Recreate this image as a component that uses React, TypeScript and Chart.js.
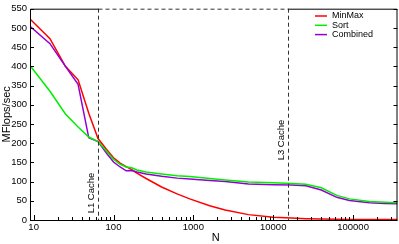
import React, { useEffect, useRef } from "react";
import { Chart, registerables } from "chart.js";

Chart.register(...registerables);

const N_VALUES = [9, 16, 25, 36, 49, 64, 81, 100, 121, 144, 169, 196, 256, 400, 625, 900, 1600, 2500, 4900, 10000, 16900, 25600, 40000, 62500, 90000, 160000, 250000, 360000];
const MINMAX = [523, 472, 400, 365, 278, 212, 185, 162, 148, 139, 131, 122, 108, 86, 68, 55, 37, 26, 14, 7, 5, 3.5, 2.5, 2, 1.5, 1, 1, 1];
const SORT = [402, 335, 276, 242, 216, 204, 180, 158, 145, 138, 136, 130, 125, 120, 115, 113, 108, 104, 99, 97, 95, 93, 84, 64, 55, 48, 46, 45];
const COMBINED = [504, 459, 400, 353, 214, 204, 175, 151, 138, 128, 129, 125, 120, 114, 109, 107, 103, 100, 94, 92, 91, 89, 78, 59, 51, 45, 43, 42];

const X_TICKS = [10, 100, 1000, 10000, 100000];
const Y_TICKS = [0, 50, 100, 150, 200, 250, 300, 350, 400, 450, 500, 550];
const CACHE_LINES = [64, 15300];
const CACHE_LABELS = ["L1 Cache", "L3 Cache"];
const CACHE_LABEL_Y = [193, 140];
const SERIES_NAMES = ["MinMax", "Sort", "Combined"];
const SERIES_COLORS = ["#ff0000", "#00ee00", "#9400d3"];

const FONT = "'Liberation Sans', Arial, Helvetica, sans-serif";

const decorPlugin = {
  id: "decor",
  afterDatasetsDraw(chart: any) {
    const { ctx, chartArea } = chart;
    const { left, right, top, bottom } = chartArea;
    const xs = chart.scales.x;
    const ys = chart.scales.y;
    ctx.save();

    // cache lines
    ctx.strokeStyle = "#333";
    ctx.lineWidth = 1;
    ctx.setLineDash([4, 3]);
    const cx = CACHE_LINES.map((v) => Math.round(xs.getPixelForValue(v)) + 0.5);
    cx.forEach((x) => {
      ctx.beginPath();
      ctx.moveTo(x, top);
      ctx.lineTo(x, bottom);
      ctx.stroke();
    });
    ctx.beginPath();
    ctx.moveTo(cx[0], top + 0.5);
    ctx.lineTo(cx[1], top + 0.5);
    ctx.stroke();
    ctx.setLineDash([]);

    // frame
    ctx.strokeStyle = "#000";
    ctx.lineWidth = 1;
    ctx.beginPath();
    ctx.moveTo(left + 0.5, top + 0.5);
    ctx.lineTo(left + 0.5, bottom + 0.5);
    ctx.lineTo(right - 0.5, bottom + 0.5);
    ctx.lineTo(right - 0.5, top + 0.5);
    ctx.lineTo(cx[1], top + 0.5);
    ctx.moveTo(left + 0.5, top + 0.5);
    ctx.lineTo(cx[0], top + 0.5);
    ctx.stroke();

    // y ticks left & right
    ctx.beginPath();
    Y_TICKS.forEach((v) => {
      const y = Math.round(ys.getPixelForValue(v)) + 0.5;
      ctx.moveTo(left, y);
      ctx.lineTo(left + 4, y);
      ctx.moveTo(right, y);
      ctx.lineTo(right - 4, y);
    });
    // x ticks
    for (let e = 0; e <= 6; e++) {
      for (let m = 1; m <= 9; m++) {
        const v = m * Math.pow(10, e);
        if (v < xs.min || v > xs.max) continue;
        const x = Math.round(xs.getPixelForValue(v)) + 0.5;
        const len = m === 1 ? 5 : 3;
        ctx.moveTo(x, bottom);
        ctx.lineTo(x, bottom - len);
      }
    }
    ctx.stroke();

    // cache labels
    ctx.fillStyle = "#000";
    ctx.font = `9.5px ${FONT}`;
    ctx.textAlign = "center";
    ctx.textBaseline = "middle";
    cx.forEach((x, i) => {
      ctx.save();
      ctx.translate(x - 7, CACHE_LABEL_Y[i]);
      ctx.rotate(-Math.PI / 2);
      ctx.fillText(CACHE_LABELS[i], 0, 0);
      ctx.restore();
    });

    // legend
    ctx.font = `9px ${FONT}`;
    ctx.textAlign = "left";
    SERIES_NAMES.forEach((name, i) => {
      const y = 16 + i * 9.3;
      ctx.strokeStyle = SERIES_COLORS[i];
      ctx.lineWidth = 1.5;
      ctx.beginPath();
      ctx.moveTo(315, y);
      ctx.lineTo(327, y);
      ctx.stroke();
      ctx.fillText(name, 332, y);
    });

    // axis titles
    ctx.font = `11px ${FONT}`;
    ctx.textAlign = "center";
    ctx.fillText("N", (left + right) / 2 + 2, 238);
    ctx.save();
    ctx.translate(6.5, (top + bottom) / 2);
    ctx.rotate(-Math.PI / 2);
    ctx.fillText("MFlops/sec", 0, 0);
    ctx.restore();

    ctx.restore();
  },
};

export default function App() {
  const ref = useRef<HTMLCanvasElement | null>(null);
  useEffect(() => {
    if (!ref.current) return;
    const mk = (vals: number[]) => N_VALUES.map((n, i) => ({ x: n, y: vals[i] }));
    const chart = new Chart(ref.current, {
      type: "line",
      data: {
        datasets: [
          { label: SERIES_NAMES[1], data: mk(SORT), borderColor: SERIES_COLORS[1], borderWidth: 1.5, pointRadius: 0, tension: 0 },
          { label: SERIES_NAMES[2], data: mk(COMBINED), borderColor: SERIES_COLORS[2], borderWidth: 1.5, pointRadius: 0, tension: 0 },
          { label: SERIES_NAMES[0], data: mk(MINMAX), borderColor: SERIES_COLORS[0], borderWidth: 1.5, pointRadius: 0, tension: 0 },
        ],
      },
      options: {
        animation: false,
        responsive: false,
        layout: { padding: { top: 4, right: 1.5, left: 0, bottom: 0 } },
        plugins: { legend: { display: false }, tooltip: { enabled: false } },
        scales: {
          x: {
            type: "logarithmic",
            min: 9,
            max: 360000,
            grid: { display: false, drawTicks: false },
            border: { display: false },
            afterBuildTicks: (s: any) => {
              s.ticks = X_TICKS.map((v) => ({ value: v }));
            },
            afterFit: (s: any) => {
              s.height = 24;
            },
            ticks: {
              autoSkip: false,
              maxRotation: 0,
              padding: 2,
              color: "#000",
              font: { family: FONT, size: 9.5 },
              callback: (v: any) => String(v),
            },
          },
          y: {
            type: "linear",
            min: 0,
            max: 550,
            grid: { display: false, drawTicks: false },
            border: { display: false },
            afterBuildTicks: (s: any) => {
              s.ticks = Y_TICKS.map((v) => ({ value: v }));
            },
            afterFit: (s: any) => {
              s.width = 30;
            },
            ticks: {
              padding: 3,
              color: "#000",
              font: { family: FONT, size: 9.5 },
            },
          },
        },
      },
      plugins: [decorPlugin],
    });
    return () => chart.destroy();
  }, []);
  return (
    <div style={{ position: "fixed", left: 0, top: 0, width: 399, height: 244, background: "#fff" }}>
      <canvas ref={ref} width={399} height={244} />
    </div>
  );
}
